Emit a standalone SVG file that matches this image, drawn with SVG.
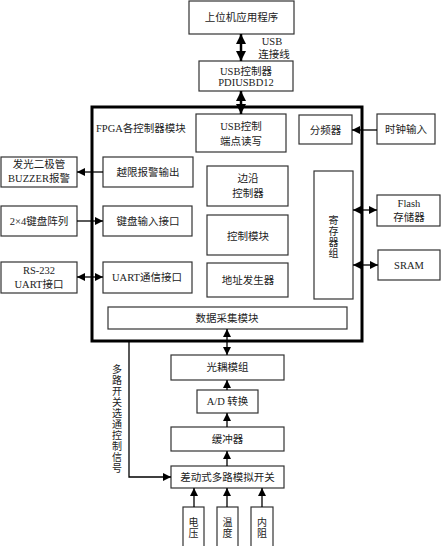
<svg xmlns="http://www.w3.org/2000/svg" width="441" height="546" viewBox="0 0 441 546">
<defs>
<style>
.b{fill:#fff;stroke:#333;stroke-width:1.2}
.t{font-family:"Liberation Serif","Noto Sans CJK SC",serif;font-size:10.5px;fill:#222;text-anchor:middle;dominant-baseline:central}
.v{font-size:10px}
.c{fill:none;stroke:#000;stroke-width:1.3}
.cb{fill:none;stroke:#000;stroke-width:2.5}
</style>
<marker id="ah" viewBox="0 0 8 8" refX="8" refY="4" markerWidth="8" markerHeight="8" markerUnits="userSpaceOnUse" orient="auto-start-reverse"><path d="M0,0 L8,4 L0,8 z" fill="#000"/></marker>
<marker id="ahb" viewBox="0 0 10 10" refX="10" refY="5" markerWidth="10" markerHeight="10" markerUnits="userSpaceOnUse" orient="auto-start-reverse"><path d="M0,0 L10,5 L0,10 z" fill="#000"/></marker>
</defs>
<rect width="441" height="546" fill="#fff"/>

<g id="fpga">
<rect x="92" y="107" width="270" height="234" fill="none" stroke="#000" stroke-width="3"/>
<text class="t" x="96" y="128" style="text-anchor:start">FPGA各控制器模块</text>
</g>

<g id="host"><rect class="b" x="189" y="1" width="105" height="33"/><text class="t" x="241.5" y="17">上位机应用程序</text></g>
<g id="usbctrl"><rect class="b" x="199" y="61" width="94" height="30"/><text class="t" x="246" y="71">USB控制器</text><text class="t" x="246" y="82">PDIUSBD12</text></g>
<g id="usbep"><rect class="b" x="196" y="114" width="90" height="38"/><text class="t" x="241" y="126">USB控制</text><text class="t" x="241" y="141">端点读写</text></g>
<g id="divider"><rect class="b" x="299" y="115" width="53" height="29"/><text class="t" x="325.5" y="130">分频器</text></g>
<g id="clock"><rect class="b" x="377" y="114" width="58" height="30"/><text class="t" x="406" y="129">时钟输入</text></g>

<g id="buzzer"><rect class="b" x="1" y="157" width="76" height="30"/><text class="t" x="39" y="164">发光二极管</text><text class="t" x="39" y="178">BUZZER报警</text></g>
<g id="alarm"><rect class="b" x="103" y="157" width="90" height="30"/><text class="t" x="148" y="172">越限报警输出</text></g>
<g id="keypad"><rect class="b" x="1" y="206" width="76" height="30"/><text class="t" x="39" y="221">2×4键盘阵列</text></g>
<g id="keyif"><rect class="b" x="103" y="206" width="89" height="30"/><text class="t" x="148" y="221">键盘输入接口</text></g>
<g id="rs232"><rect class="b" x="1" y="262" width="76" height="31"/><text class="t" x="39" y="270">RS-232</text><text class="t" x="39" y="284">UART接口</text></g>
<g id="uart"><rect class="b" x="103" y="262" width="89" height="31"/><text class="t" x="147" y="277">UART通信接口</text></g>

<g id="edge"><rect class="b" x="207" y="166" width="81" height="40"/><text class="t" x="248" y="178">边沿</text><text class="t" x="248" y="193">控制器</text></g>
<g id="ctrlmod"><rect class="b" x="207" y="215" width="81" height="40"/><text class="t" x="248" y="236">控制模块</text></g>
<g id="addr"><rect class="b" x="207" y="263" width="81" height="34"/><text class="t" x="248" y="280">地址发生器</text></g>
<g id="regs"><rect class="b" x="314" y="171" width="39" height="128"/><text class="t v" x="333.5" y="220">寄</text><text class="t v" x="333.5" y="231">存</text><text class="t v" x="333.5" y="242">器</text><text class="t v" x="333.5" y="253">组</text></g>
<g id="flash"><rect class="b" x="377" y="195" width="63" height="31"/><text class="t" x="409" y="203">Flash</text><text class="t" x="409" y="217">存储器</text></g>
<g id="sram"><rect class="b" x="378" y="250" width="62" height="30"/><text class="t" x="409" y="265">SRAM</text></g>
<g id="daq"><rect class="b" x="108" y="307" width="239" height="22"/><text class="t" x="227" y="318">数据采集模块</text></g>

<g id="opto"><rect class="b" x="171" y="355" width="113" height="25"/><text class="t" x="227.5" y="367.5">光耦模组</text></g>
<g id="adc"><rect class="b" x="197" y="390" width="61" height="23"/><text class="t" x="227.5" y="401.5">A/D 转换</text></g>
<g id="buffer"><rect class="b" x="171" y="427" width="113" height="24"/><text class="t" x="227.5" y="439">缓冲器</text></g>
<g id="mux"><rect class="b" x="171" y="466" width="113" height="22"/><text class="t" x="227.5" y="477">差动式多路模拟开关</text></g>
<g id="voltage"><rect class="b" x="183" y="507" width="21" height="40"/><text class="t v" x="193.5" y="522">电</text><text class="t v" x="193.5" y="533">压</text></g>
<g id="temp"><rect class="b" x="217" y="507" width="21" height="40"/><text class="t v" x="227.5" y="522">温</text><text class="t v" x="227.5" y="533">度</text></g>
<g id="resist"><rect class="b" x="251" y="507" width="22" height="40"/><text class="t v" x="262" y="522">内</text><text class="t v" x="262" y="533">阻</text></g>

<g id="connectors">
<line class="cb" x1="241" y1="34" x2="241" y2="61" marker-start="url(#ahb)" marker-end="url(#ahb)"/>
<text class="t" x="272" y="41">USB</text><text class="t" x="274" y="54">连接线</text>
<line class="cb" x1="241" y1="91" x2="241" y2="114" marker-start="url(#ahb)" marker-end="url(#ahb)"/>
<line class="c" x1="377" y1="130" x2="352" y2="130" marker-end="url(#ah)"/>
<line class="c" x1="103" y1="172" x2="77" y2="172" marker-end="url(#ah)"/>
<line class="c" x1="77" y1="221" x2="103" y2="221" marker-end="url(#ah)"/>
<line class="c" x1="77" y1="277" x2="103" y2="277" marker-start="url(#ah)" marker-end="url(#ah)"/>
<line class="c" x1="353" y1="210" x2="377" y2="210" marker-start="url(#ah)" marker-end="url(#ah)"/>
<line class="c" x1="353" y1="265" x2="378" y2="265" marker-start="url(#ah)" marker-end="url(#ah)"/>
<line class="c" x1="227" y1="329" x2="227" y2="355" marker-start="url(#ah)" marker-end="url(#ah)"/>
<line class="c" x1="227" y1="390" x2="227" y2="380" marker-end="url(#ah)"/>
<line class="c" x1="227" y1="427" x2="227" y2="413" marker-end="url(#ah)"/>
<line class="c" x1="227" y1="466" x2="227" y2="451" marker-end="url(#ah)"/>
<line class="c" x1="194" y1="507" x2="194" y2="488" marker-end="url(#ah)"/>
<line class="c" x1="227" y1="507" x2="227" y2="488" marker-end="url(#ah)"/>
<line class="c" x1="262" y1="507" x2="262" y2="488" marker-end="url(#ah)"/>
<polyline class="c" points="129,341 129,477 171,477" marker-end="url(#ah)"/>
<g class="t v">
<text x="117" y="369">多</text><text x="117" y="380">路</text><text x="117" y="391">开</text><text x="117" y="402">关</text><text x="117" y="413">选</text><text x="117" y="424">通</text><text x="117" y="435">控</text><text x="117" y="446">制</text><text x="117" y="457">信</text><text x="117" y="468">号</text>
</g>
</g>
</svg>
